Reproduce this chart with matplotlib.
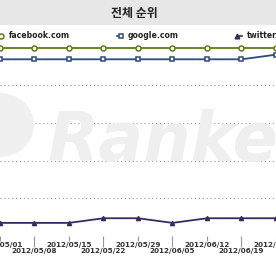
import matplotlib
matplotlib.use("Agg")
import matplotlib.pyplot as plt
from matplotlib.patches import Rectangle, Circle
import pandas as pd

# ---- data ----
dates = ["2012-05-01", "2012-05-08", "2012-05-15", "2012-05-22", "2012-05-29",
         "2012-06-05", "2012-06-12", "2012-06-19", "2012-06-26"]
tick_labels = ["2012/05/01", "2012/05/08", "2012/05/15", "2012/05/22", "2012/05/29",
               "2012/06/05", "2012/06/12", "2012/06/19", "2012/06/26"]
facebook = [1, 1, 1, 1, 1, 1, 1, 1, 1]
google = [2, 2, 2, 2, 2, 2, 2, 2, 1.6]
twitter = [16.1, 16.1, 16.1, 15.7, 15.7, 16.1, 15.7, 15.7, 15.7]
series_names = ["facebook.com", "google.com", "twitter.com"]
title = "전체 순위"

plt.rcParams['font.family'] = ['DejaVu Sans']
W, H = 276, 260
fig = plt.figure(figsize=(W / 100, H / 100), dpi=100)
fig.patch.set_facecolor("white")

def fx(px):
    return px / W

def fy(py):
    return 1 - py / H

# title band
fig.patches.append(Rectangle((0, fy(25)), 1, 25 / H, transform=fig.transFigure,
                             facecolor="#e7e7e7", edgecolor="none", zorder=0))
fig.text(fx(134), fy(13), title, ha="center", va="center", fontsize=8.6,
         fontweight="bold", color="#222222",
         family=["Noto Sans CJK KR", "DejaVu Sans"])

# watermark
fig.patches.append(Circle((fx(0), fy(125)), 34 / W, transform=fig.transFigure,
                          facecolor="#f0f0f0", edgecolor="none", zorder=0))
fig.text(fx(48), fy(161), "Ranker", ha="left", va="baseline", fontsize=48,
         fontweight="bold", fontstyle="italic", color="#efefef", zorder=0)

# axes
top_px, bot_px = 47.7, 236
ax = fig.add_axes([0, fy(bot_px), 1, (bot_px - top_px) / H])
ax.set_facecolor("none")
x = pd.to_datetime(dates)
x0 = x[0] + pd.Timedelta(days=0.5)
x1 = x0 + pd.Timedelta(days=W / 5.05)
ax.set_xlim(x0, x1)
ymin, ymax = 1, 17.23
ax.set_ylim(ymax, ymin)

colors = ["#5f7a1c", "#2d4a78", "#3a2a5c"]
ax.plot(x, facebook, color=colors[0], lw=1.3, marker="o", ms=3.6,
        mfc="white", mec=colors[0], mew=1.1, clip_on=False, zorder=5)
ax.plot(x, google, color=colors[1], lw=1.3, marker="s", ms=3.4,
        mfc="white", mec=colors[1], mew=1.1, clip_on=False, zorder=5)
ax.plot(x, twitter, color=colors[2], lw=1.3, marker="^", ms=3.0,
        mfc=colors[2], mec=colors[2], clip_on=False, zorder=5)

# grid
for i in range(1, 5):
    yv = ymin + (ymax - ymin) * i / 5
    ax.axhline(yv, color="#9a9a9a", lw=0.8, ls=(0, (1, 2.5)), zorder=1)

for s in ax.spines.values():
    s.set_visible(False)
ax.set_yticks([])

ax.set_xticks(x[0::2])
ax.set_xticklabels(tick_labels[0::2])
ax.set_xticks(x[1::2], minor=True)
ax.set_xticklabels(tick_labels[1::2], minor=True)
ax.tick_params(axis="x", which="major", length=3.6, width=0.8, color="#999999",
               pad=0.8, labelsize=5.2, labelcolor="#333333")
ax.tick_params(axis="x", which="minor", length=8, width=0.8, color="#999999",
               pad=0.8, labelsize=5.2, labelcolor="#333333")
for lab in ax.get_xticklabels(which="both"):
    lab.set_fontweight("bold")

# legend
leg_y = fy(36)
fig.lines.append(plt.Line2D([fx(1)], [leg_y], transform=fig.transFigure,
                            marker="o", ms=3.6, mfc="white", mec=colors[0], mew=1.1, ls="none"))
fig.lines.append(plt.Line2D([fx(117), fx(121)], [leg_y, leg_y], transform=fig.transFigure,
                            color=colors[1], lw=1.2, marker="s", ms=3.4, mfc="white",
                            mec=colors[1], mew=1.1, markevery=[1]))
fig.lines.append(plt.Line2D([fx(237), fx(242)], [leg_y, leg_y], transform=fig.transFigure,
                            color=colors[2], lw=1.2, marker="^", ms=3.4, mfc=colors[2],
                            mec=colors[2], markevery=[0]))
for px, name in zip([9, 128, 247], series_names):
    fig.text(fx(px), leg_y, name, ha="left", va="center", fontsize=5.6,
             fontweight="bold", color="#222222")

fig.savefig("out.png", dpi=100)
